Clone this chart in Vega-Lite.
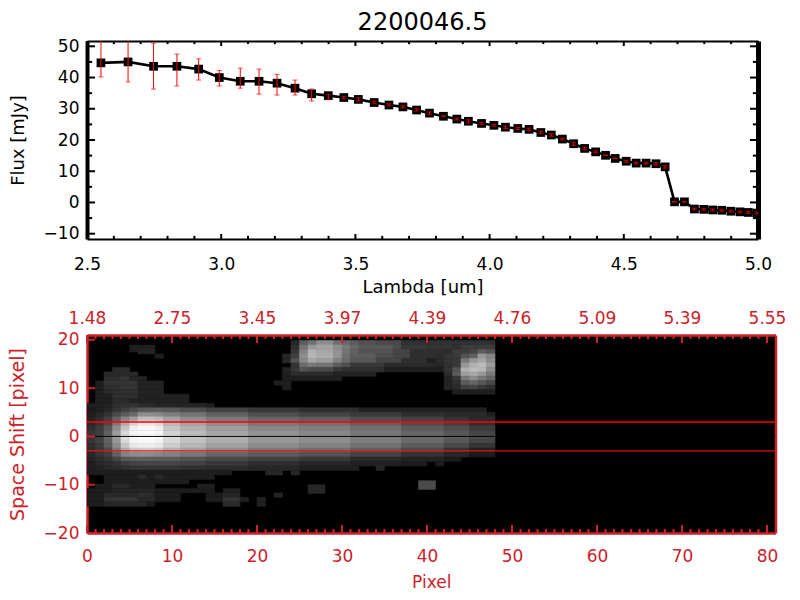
{"$schema":"https://vega.github.io/schema/vega-lite/v6.json","autosize":"pad","padding":{"left":8,"top":11,"right":0,"bottom":0},"background":"white","bounds":"flush","spacing":96,
"config":{"font":"DejaVu Sans","view":{"stroke":null},"axis":{"grid":false,"labelFont":"DejaVu Sans","titleFont":"DejaVu Sans","labelFontSize":17,"titleFontSize":17,"titleFontWeight":"normal","labelOverlap":false,"labelFlush":false,"zindex":1}},
"vconcat":[
{"title":{"text":"2200046.5","font":"DejaVu Sans","fontSize":24,"fontWeight":"normal","color":"black","offset":2},
"width":671,"height":198,
"data":{"values":[
{"lambda":2.552,"flux":44.7,"low":40.2,"high":52.5},{"lambda":2.653,"flux":45,"low":38.6,"high":52.5},{"lambda":2.748,"flux":43.6,"low":36.3,"high":51},{"lambda":2.835,"flux":43.6,"low":37.3,"high":47.5},{"lambda":2.916,"flux":42.7,"low":39.2,"high":46},{"lambda":2.993,"flux":40,"low":37.3,"high":42.3},{"lambda":3.071,"flux":38.8,"low":36.6,"high":43},{"lambda":3.141,"flux":38.8,"low":34.7,"high":42.7},{"lambda":3.208,"flux":38.2,"low":34.4,"high":41},{"lambda":3.275,"flux":36.6,"low":34.4,"high":39.2},{"lambda":3.337,"flux":34.8,"low":32.5,"high":36.3},{"lambda":3.399,"flux":34.2,"low":32.9,"high":34.5},{"lambda":3.457,"flux":33.6,"low":33.2,"high":34},{"lambda":3.511,"flux":33,"low":32.5,"high":33.5},{"lambda":3.57,"flux":32,"low":31.6,"high":32.5},{"lambda":3.625,"flux":31.2,"low":30.9,"high":31.6},
{"lambda":3.677,"flux":30.6,"low":30.3,"high":31},{"lambda":3.728,"flux":29.6,"low":29.3,"high":30},{"lambda":3.776,"flux":28.6,"low":28.2,"high":29},{"lambda":3.828,"flux":27.6,"low":27.5,"high":27.7},{"lambda":3.878,"flux":26.7,"low":26.4,"high":27},{"lambda":3.921,"flux":26,"low":25.5,"high":26.5},{"lambda":3.97,"flux":25.3,"low":25,"high":25.6},{"lambda":4.016,"flux":24.7,"low":24.4,"high":25},{"lambda":4.059,"flux":24.1,"low":23.7,"high":24.5},{"lambda":4.105,"flux":23.7,"low":23.4,"high":24},{"lambda":4.147,"flux":23.4,"low":23,"high":23.8},{"lambda":4.191,"flux":22.4,"low":22,"high":22.8},{"lambda":4.23,"flux":21.6,"low":21.2,"high":22},{"lambda":4.271,"flux":20.3,"low":20,"high":20.6},{"lambda":4.313,"flux":18.8,"low":18.3,"high":19.3},{"lambda":4.354,"flux":17.3,"low":16.9,"high":17.7},{"lambda":4.395,"flux":16.2,"low":15.9,"high":16.5},{"lambda":4.432,"flux":15.1,"low":15,"high":15.2},{"lambda":4.468,"flux":14.1,"low":14,"high":14.2},{"lambda":4.509,"flux":13.2,"low":12.9,"high":13.5},{"lambda":4.546,"flux":12.6,"low":12.3,"high":12.9},{"lambda":4.583,"flux":12.6,"low":12.3,"high":12.9},{"lambda":4.62,"flux":12.4,"low":12,"high":12.8},{"lambda":4.654,"flux":11.4,"low":11,"high":11.8},
{"lambda":4.689,"flux":0.2,"low":0.15,"high":0.25},{"lambda":4.726,"flux":0.2,"low":0.15,"high":0.25},{"lambda":4.763,"flux":-2.1,"low":-2.4,"high":-1.8},{"lambda":4.798,"flux":-2.2,"low":-2.5,"high":-1.9},{"lambda":4.831,"flux":-2.4,"low":-2.7,"high":-2.1},{"lambda":4.865,"flux":-2.5,"low":-2.8,"high":-2.2},{"lambda":4.899,"flux":-2.8,"low":-3.1,"high":-2.5},{"lambda":4.933,"flux":-3,"low":-3.3,"high":-2.7},{"lambda":4.964,"flux":-3.2,"low":-3.5,"high":-2.9},{"lambda":4.996,"flux":-3.4,"low":-3.7,"high":-3.1}
]},
"resolve":{"axis":{"x":"independent","y":"independent"}},
"layer":[
{"mark":{"type":"line","color":"black","strokeWidth":2.6,"clip":true},
"encoding":{
"x":{"field":"lambda","type":"quantitative","scale":{"domain":[2.5,5],"nice":false,"zero":false},"axis":{"orient":"bottom","title":"Lambda [um]","titleFontSize":18,"titlePadding":6,"values":[2.5,3,3.5,4,4.5,5],"format":".1f","ticks":false,"domainColor":"black","domainWidth":2,"labelColor":"black","titleColor":"black","labelPadding":17}},
"y":{"field":"flux","type":"quantitative","scale":{"domain":[-11.7,51.7],"nice":false,"zero":false},"axis":{"orient":"left","title":"Flux [mJy]","titleFontSize":18,"titlePadding":16,"values":[-10,0,10,20,30,40,50],"format":"d","ticks":false,"domainColor":"black","domainWidth":4,"labelColor":"black","titleColor":"black","labelPadding":8}}}},
{"mark":{"type":"point","shape":"square","filled":true,"color":"black","opacity":1,"size":76,"clip":true},
"encoding":{
"x":{"field":"lambda","type":"quantitative","axis":{"orient":"top","title":null,"labels":false,"ticks":false,"values":[3],"domainColor":"black","domainWidth":2}},
"y":{"field":"flux","type":"quantitative","axis":{"orient":"right","title":null,"labels":false,"ticks":false,"values":[0],"domainColor":"black","domainWidth":5}}}},
{"data":{"values":[{"at":2.5},{"at":3},{"at":3.5},{"at":4},{"at":4.5},{"at":5}]},
"layer":[
{"mark":{"type":"rule","color":"black","strokeWidth":2},"encoding":{"x":{"field":"at","type":"quantitative","axis":null},"y":{"datum":-11.7,"type":"quantitative","axis":null},"y2":{"datum":-10.1}}},
{"mark":{"type":"rule","color":"black","strokeWidth":2},"encoding":{"x":{"field":"at","type":"quantitative","axis":null},"y":{"datum":51.7,"type":"quantitative","axis":null},"y2":{"datum":50.1}}}
]},
{"data":{"values":[{"at":2.6},{"at":2.7},{"at":2.8},{"at":2.9},{"at":3.1},{"at":3.2},{"at":3.3},{"at":3.4},{"at":3.6},{"at":3.7},{"at":3.8},{"at":3.9},{"at":4.1},{"at":4.2},{"at":4.3},{"at":4.4},{"at":4.6},{"at":4.7},{"at":4.8},{"at":4.9}]},
"layer":[
{"mark":{"type":"rule","color":"black","strokeWidth":2},"encoding":{"x":{"field":"at","type":"quantitative","axis":null},"y":{"datum":-11.7,"type":"quantitative","axis":null},"y2":{"datum":-10.7}}},
{"mark":{"type":"rule","color":"black","strokeWidth":2},"encoding":{"x":{"field":"at","type":"quantitative","axis":null},"y":{"datum":51.7,"type":"quantitative","axis":null},"y2":{"datum":50.7}}}
]},
{"data":{"values":[{"at":-10},{"at":0},{"at":10},{"at":20},{"at":30},{"at":40},{"at":50}]},
"layer":[
{"mark":{"type":"rule","color":"black","strokeWidth":2},"encoding":{"y":{"field":"at","type":"quantitative","axis":null},"x":{"datum":2.5,"type":"quantitative","axis":null},"x2":{"datum":2.53}}},
{"mark":{"type":"rule","color":"black","strokeWidth":2},"encoding":{"y":{"field":"at","type":"quantitative","axis":null},"x":{"datum":5,"type":"quantitative","axis":null},"x2":{"datum":4.97}}}
]},
{"data":{"values":[{"at":-5},{"at":5},{"at":15},{"at":25},{"at":35},{"at":45}]},
"layer":[
{"mark":{"type":"rule","color":"black","strokeWidth":2},"encoding":{"y":{"field":"at","type":"quantitative","axis":null},"x":{"datum":2.5,"type":"quantitative","axis":null},"x2":{"datum":2.519}}},
{"mark":{"type":"rule","color":"black","strokeWidth":2},"encoding":{"y":{"field":"at","type":"quantitative","axis":null},"x":{"datum":5,"type":"quantitative","axis":null},"x2":{"datum":4.981}}}
]},
{"mark":{"type":"errorbar","ticks":{"color":"#ff0000","size":5,"strokeWidth":1,"clip":true},"rule":{"color":"#ff0000","strokeWidth":1,"clip":true}},
"encoding":{
"x":{"field":"lambda","type":"quantitative","axis":null},
"y":{"field":"low","type":"quantitative","axis":null,"title":null},
"y2":{"field":"high"}}}
]},
{"width":688.5,"height":198,"view":{"fill":"black"},
"resolve":{"axis":{"x":"independent","y":"independent"},"scale":{"color":"independent"}},
"layer":[
{"data":{"values":[
{"x":5,"x2":8,"y":17.5,"y2":18.93,"v":30},{"x":6,"x2":8,"y":17.08,"y2":18,"v":36},{"x":8,"x2":9,"y":16.15,"y2":17.08,"v":28},
{"x":3,"x2":5,"y":13.36,"y2":14.29,"v":42},
{"x":2,"x2":6,"y":12.44,"y2":13.36,"v":42},
{"x":2,"x2":4,"y":11.51,"y2":12.44,"v":50},{"x":4,"x2":5,"y":11.51,"y2":12.44,"v":58},{"x":5,"x2":7,"y":11.51,"y2":12.44,"v":36},
{"x":1,"x2":2,"y":10.58,"y2":11.51,"v":30},{"x":2,"x2":6,"y":10.58,"y2":11.51,"v":55},{"x":6,"x2":9,"y":10.58,"y2":11.51,"v":35},
{"x":1,"x2":2,"y":9.65,"y2":10.58,"v":30},{"x":2,"x2":4,"y":9.65,"y2":10.58,"v":50},{"x":4,"x2":6,"y":9.65,"y2":10.58,"v":55},{"x":6,"x2":9,"y":9.65,"y2":10.58,"v":35},
{"x":1,"x2":2,"y":8.72,"y2":9.65,"v":30},{"x":2,"x2":3,"y":8.72,"y2":9.65,"v":45},{"x":3,"x2":6,"y":8.72,"y2":9.65,"v":50},{"x":6,"x2":9,"y":8.72,"y2":9.65,"v":35},
{"x":1,"x2":3,"y":7.8,"y2":8.72,"v":30},{"x":3,"x2":6,"y":7.8,"y2":8.72,"v":50},{"x":6,"x2":12,"y":7.8,"y2":8.72,"v":33},
{"x":1,"x2":3,"y":6.87,"y2":7.8,"v":30},{"x":3,"x2":5,"y":6.87,"y2":7.8,"v":45},{"x":5,"x2":12,"y":6.87,"y2":7.8,"v":33},
{"x":0,"x2":2,"y":5.94,"y2":6.87,"v":30},{"x":2,"x2":3,"y":5.94,"y2":6.87,"v":35},{"x":3,"x2":4,"y":5.94,"y2":6.87,"v":50},{"x":4,"x2":6,"y":5.94,"y2":6.87,"v":55},{"x":6,"x2":8,"y":5.94,"y2":6.87,"v":45},{"x":8,"x2":14,"y":5.94,"y2":6.87,"v":38},{"x":14,"x2":15,"y":5.94,"y2":6.87,"v":30},
{"x":0,"x2":1,"y":5.01,"y2":5.94,"v":25},{"x":1,"x2":2,"y":5.01,"y2":5.94,"v":30},{"x":2,"x2":3,"y":5.01,"y2":5.94,"v":40},{"x":3,"x2":4,"y":5.01,"y2":5.94,"v":55},{"x":4,"x2":5,"y":5.01,"y2":5.94,"v":70},{"x":5,"x2":6,"y":5.01,"y2":5.94,"v":80},{"x":6,"x2":8,"y":5.01,"y2":5.94,"v":95},{"x":8,"x2":9,"y":5.01,"y2":5.94,"v":100},{"x":9,"x2":11,"y":5.01,"y2":5.94,"v":95},{"x":11,"x2":14,"y":5.01,"y2":5.94,"v":85},{"x":14,"x2":19,"y":5.01,"y2":5.94,"v":70},{"x":19,"x2":25,"y":5.01,"y2":5.94,"v":60},{"x":25,"x2":32,"y":5.01,"y2":5.94,"v":50},{"x":32,"x2":47,"y":5.01,"y2":5.94,"v":34},
{"x":0,"x2":1,"y":4.08,"y2":5.01,"v":30},{"x":1,"x2":2,"y":4.08,"y2":5.01,"v":40},{"x":2,"x2":3,"y":4.08,"y2":5.01,"v":55},{"x":3,"x2":4,"y":4.08,"y2":5.01,"v":80},{"x":4,"x2":5,"y":4.08,"y2":5.01,"v":100},{"x":5,"x2":6,"y":4.08,"y2":5.01,"v":115},{"x":6,"x2":8,"y":4.08,"y2":5.01,"v":150},{"x":8,"x2":9,"y":4.08,"y2":5.01,"v":145},{"x":9,"x2":11,"y":4.08,"y2":5.01,"v":135},{"x":11,"x2":14,"y":4.08,"y2":5.01,"v":125},{"x":14,"x2":19,"y":4.08,"y2":5.01,"v":105},{"x":19,"x2":25,"y":4.08,"y2":5.01,"v":85},{"x":25,"x2":31,"y":4.08,"y2":5.01,"v":75},{"x":31,"x2":37,"y":4.08,"y2":5.01,"v":65},{"x":37,"x2":42,"y":4.08,"y2":5.01,"v":50},{"x":42,"x2":47,"y":4.08,"y2":5.01,"v":45},{"x":47,"x2":48,"y":4.08,"y2":5.01,"v":30},
{"x":0,"x2":1,"y":3.16,"y2":4.08,"v":35},{"x":1,"x2":2,"y":3.16,"y2":4.08,"v":50},{"x":2,"x2":3,"y":3.16,"y2":4.08,"v":70},{"x":3,"x2":4,"y":3.16,"y2":4.08,"v":105},{"x":4,"x2":5,"y":3.16,"y2":4.08,"v":140},{"x":5,"x2":6,"y":3.16,"y2":4.08,"v":165},{"x":6,"x2":8,"y":3.16,"y2":4.08,"v":195},{"x":8,"x2":9,"y":3.16,"y2":4.08,"v":190},{"x":9,"x2":11,"y":3.16,"y2":4.08,"v":170},{"x":11,"x2":14,"y":3.16,"y2":4.08,"v":150},{"x":14,"x2":19,"y":3.16,"y2":4.08,"v":130},{"x":19,"x2":25,"y":3.16,"y2":4.08,"v":110},{"x":25,"x2":31,"y":3.16,"y2":4.08,"v":100},{"x":31,"x2":37,"y":3.16,"y2":4.08,"v":85},{"x":37,"x2":42,"y":3.16,"y2":4.08,"v":70},{"x":42,"x2":45,"y":3.16,"y2":4.08,"v":55},{"x":45,"x2":48,"y":3.16,"y2":4.08,"v":45},
{"x":0,"x2":1,"y":2.23,"y2":3.16,"v":40},{"x":1,"x2":2,"y":2.23,"y2":3.16,"v":55},{"x":2,"x2":3,"y":2.23,"y2":3.16,"v":80},{"x":3,"x2":4,"y":2.23,"y2":3.16,"v":130},{"x":4,"x2":5,"y":2.23,"y2":3.16,"v":180},{"x":5,"x2":6,"y":2.23,"y2":3.16,"v":215},{"x":6,"x2":8,"y":2.23,"y2":3.16,"v":235},{"x":8,"x2":9,"y":2.23,"y2":3.16,"v":225},{"x":9,"x2":11,"y":2.23,"y2":3.16,"v":190},{"x":11,"x2":14,"y":2.23,"y2":3.16,"v":170},{"x":14,"x2":19,"y":2.23,"y2":3.16,"v":150},{"x":19,"x2":25,"y":2.23,"y2":3.16,"v":130},{"x":25,"x2":31,"y":2.23,"y2":3.16,"v":120},{"x":31,"x2":37,"y":2.23,"y2":3.16,"v":105},{"x":37,"x2":42,"y":2.23,"y2":3.16,"v":85},{"x":42,"x2":45,"y":2.23,"y2":3.16,"v":70},{"x":45,"x2":48,"y":2.23,"y2":3.16,"v":50},
{"x":0,"x2":1,"y":1.3,"y2":2.23,"v":50},{"x":1,"x2":2,"y":1.3,"y2":2.23,"v":65},{"x":2,"x2":3,"y":1.3,"y2":2.23,"v":95},{"x":3,"x2":4,"y":1.3,"y2":2.23,"v":150},{"x":4,"x2":5,"y":1.3,"y2":2.23,"v":200},{"x":5,"x2":6,"y":1.3,"y2":2.23,"v":240},{"x":6,"x2":8,"y":1.3,"y2":2.23,"v":250},{"x":8,"x2":9,"y":1.3,"y2":2.23,"v":240},{"x":9,"x2":11,"y":1.3,"y2":2.23,"v":205},{"x":11,"x2":14,"y":1.3,"y2":2.23,"v":185},{"x":14,"x2":19,"y":1.3,"y2":2.23,"v":165},{"x":19,"x2":25,"y":1.3,"y2":2.23,"v":145},{"x":25,"x2":31,"y":1.3,"y2":2.23,"v":135},{"x":31,"x2":37,"y":1.3,"y2":2.23,"v":120},{"x":37,"x2":42,"y":1.3,"y2":2.23,"v":100},{"x":42,"x2":45,"y":1.3,"y2":2.23,"v":85},{"x":45,"x2":48,"y":1.3,"y2":2.23,"v":65},
{"x":0,"x2":1,"y":0.37,"y2":1.3,"v":60},{"x":1,"x2":2,"y":0.37,"y2":1.3,"v":70},{"x":2,"x2":3,"y":0.37,"y2":1.3,"v":105},{"x":3,"x2":4,"y":0.37,"y2":1.3,"v":165},{"x":4,"x2":5,"y":0.37,"y2":1.3,"v":220},{"x":5,"x2":6,"y":0.37,"y2":1.3,"v":245},{"x":6,"x2":8,"y":0.37,"y2":1.3,"v":250},{"x":8,"x2":9,"y":0.37,"y2":1.3,"v":245},{"x":9,"x2":11,"y":0.37,"y2":1.3,"v":215},{"x":11,"x2":14,"y":0.37,"y2":1.3,"v":195},{"x":14,"x2":19,"y":0.37,"y2":1.3,"v":175},{"x":19,"x2":25,"y":0.37,"y2":1.3,"v":155},{"x":25,"x2":31,"y":0.37,"y2":1.3,"v":145},{"x":31,"x2":37,"y":0.37,"y2":1.3,"v":130},{"x":37,"x2":42,"y":0.37,"y2":1.3,"v":110},{"x":42,"x2":45,"y":0.37,"y2":1.3,"v":95},{"x":45,"x2":48,"y":0.37,"y2":1.3,"v":75},
{"x":0,"x2":1,"y":-0.56,"y2":0.37,"v":60},{"x":1,"x2":2,"y":-0.56,"y2":0.37,"v":70},{"x":2,"x2":3,"y":-0.56,"y2":0.37,"v":110},{"x":3,"x2":4,"y":-0.56,"y2":0.37,"v":165},{"x":4,"x2":5,"y":-0.56,"y2":0.37,"v":225},{"x":5,"x2":6,"y":-0.56,"y2":0.37,"v":250},{"x":6,"x2":8,"y":-0.56,"y2":0.37,"v":255},{"x":8,"x2":9,"y":-0.56,"y2":0.37,"v":250},{"x":9,"x2":11,"y":-0.56,"y2":0.37,"v":225},{"x":11,"x2":14,"y":-0.56,"y2":0.37,"v":200},{"x":14,"x2":19,"y":-0.56,"y2":0.37,"v":180},{"x":19,"x2":25,"y":-0.56,"y2":0.37,"v":160},{"x":25,"x2":31,"y":-0.56,"y2":0.37,"v":150},{"x":31,"x2":37,"y":-0.56,"y2":0.37,"v":135},{"x":37,"x2":42,"y":-0.56,"y2":0.37,"v":115},{"x":42,"x2":45,"y":-0.56,"y2":0.37,"v":100},{"x":45,"x2":48,"y":-0.56,"y2":0.37,"v":80},
{"x":0,"x2":1,"y":-1.48,"y2":-0.56,"v":55},{"x":1,"x2":2,"y":-1.48,"y2":-0.56,"v":70},{"x":2,"x2":3,"y":-1.48,"y2":-0.56,"v":105},{"x":3,"x2":4,"y":-1.48,"y2":-0.56,"v":160},{"x":4,"x2":5,"y":-1.48,"y2":-0.56,"v":220},{"x":5,"x2":6,"y":-1.48,"y2":-0.56,"v":245},{"x":6,"x2":8,"y":-1.48,"y2":-0.56,"v":250},{"x":8,"x2":9,"y":-1.48,"y2":-0.56,"v":245},{"x":9,"x2":11,"y":-1.48,"y2":-0.56,"v":220},{"x":11,"x2":14,"y":-1.48,"y2":-0.56,"v":200},{"x":14,"x2":19,"y":-1.48,"y2":-0.56,"v":180},{"x":19,"x2":25,"y":-1.48,"y2":-0.56,"v":160},{"x":25,"x2":31,"y":-1.48,"y2":-0.56,"v":150},{"x":31,"x2":37,"y":-1.48,"y2":-0.56,"v":135},{"x":37,"x2":42,"y":-1.48,"y2":-0.56,"v":115},{"x":42,"x2":45,"y":-1.48,"y2":-0.56,"v":95},{"x":45,"x2":48,"y":-1.48,"y2":-0.56,"v":75},
{"x":0,"x2":1,"y":-2.41,"y2":-1.48,"v":50},{"x":1,"x2":2,"y":-2.41,"y2":-1.48,"v":65},{"x":2,"x2":3,"y":-2.41,"y2":-1.48,"v":100},{"x":3,"x2":4,"y":-2.41,"y2":-1.48,"v":150},{"x":4,"x2":5,"y":-2.41,"y2":-1.48,"v":205},{"x":5,"x2":6,"y":-2.41,"y2":-1.48,"v":235},{"x":6,"x2":8,"y":-2.41,"y2":-1.48,"v":240},{"x":8,"x2":9,"y":-2.41,"y2":-1.48,"v":235},{"x":9,"x2":11,"y":-2.41,"y2":-1.48,"v":210},{"x":11,"x2":14,"y":-2.41,"y2":-1.48,"v":190},{"x":14,"x2":19,"y":-2.41,"y2":-1.48,"v":170},{"x":19,"x2":25,"y":-2.41,"y2":-1.48,"v":150},{"x":25,"x2":31,"y":-2.41,"y2":-1.48,"v":140},{"x":31,"x2":37,"y":-2.41,"y2":-1.48,"v":125},{"x":37,"x2":42,"y":-2.41,"y2":-1.48,"v":100},{"x":42,"x2":45,"y":-2.41,"y2":-1.48,"v":80},{"x":45,"x2":48,"y":-2.41,"y2":-1.48,"v":55},
{"x":0,"x2":1,"y":-3.34,"y2":-2.41,"v":45},{"x":1,"x2":2,"y":-3.34,"y2":-2.41,"v":60},{"x":2,"x2":3,"y":-3.34,"y2":-2.41,"v":85},{"x":3,"x2":4,"y":-3.34,"y2":-2.41,"v":130},{"x":4,"x2":5,"y":-3.34,"y2":-2.41,"v":180},{"x":5,"x2":6,"y":-3.34,"y2":-2.41,"v":205},{"x":6,"x2":8,"y":-3.34,"y2":-2.41,"v":210},{"x":8,"x2":9,"y":-3.34,"y2":-2.41,"v":205},{"x":9,"x2":11,"y":-3.34,"y2":-2.41,"v":185},{"x":11,"x2":14,"y":-3.34,"y2":-2.41,"v":170},{"x":14,"x2":19,"y":-3.34,"y2":-2.41,"v":150},{"x":19,"x2":25,"y":-3.34,"y2":-2.41,"v":130},{"x":25,"x2":31,"y":-3.34,"y2":-2.41,"v":120},{"x":31,"x2":37,"y":-3.34,"y2":-2.41,"v":105},{"x":37,"x2":42,"y":-3.34,"y2":-2.41,"v":80},{"x":42,"x2":45,"y":-3.34,"y2":-2.41,"v":55},{"x":45,"x2":48,"y":-3.34,"y2":-2.41,"v":35},
{"x":0,"x2":1,"y":-4.27,"y2":-3.34,"v":40},{"x":1,"x2":2,"y":-4.27,"y2":-3.34,"v":55},{"x":2,"x2":3,"y":-4.27,"y2":-3.34,"v":70},{"x":3,"x2":4,"y":-4.27,"y2":-3.34,"v":105},{"x":4,"x2":5,"y":-4.27,"y2":-3.34,"v":140},{"x":5,"x2":6,"y":-4.27,"y2":-3.34,"v":150},{"x":6,"x2":8,"y":-4.27,"y2":-3.34,"v":150},{"x":8,"x2":9,"y":-4.27,"y2":-3.34,"v":145},{"x":9,"x2":11,"y":-4.27,"y2":-3.34,"v":140},{"x":11,"x2":14,"y":-4.27,"y2":-3.34,"v":130},{"x":14,"x2":19,"y":-4.27,"y2":-3.34,"v":110},{"x":19,"x2":25,"y":-4.27,"y2":-3.34,"v":100},{"x":25,"x2":31,"y":-4.27,"y2":-3.34,"v":90},{"x":31,"x2":37,"y":-4.27,"y2":-3.34,"v":75},{"x":37,"x2":42,"y":-4.27,"y2":-3.34,"v":55},{"x":42,"x2":45,"y":-4.27,"y2":-3.34,"v":40},{"x":45,"x2":48,"y":-4.27,"y2":-3.34,"v":25},
{"x":0,"x2":1,"y":-5.2,"y2":-4.27,"v":35},{"x":1,"x2":2,"y":-5.2,"y2":-4.27,"v":45},{"x":2,"x2":3,"y":-5.2,"y2":-4.27,"v":55},{"x":3,"x2":4,"y":-5.2,"y2":-4.27,"v":75},{"x":4,"x2":5,"y":-5.2,"y2":-4.27,"v":95},{"x":5,"x2":8,"y":-5.2,"y2":-4.27,"v":100},{"x":8,"x2":11,"y":-5.2,"y2":-4.27,"v":97},{"x":11,"x2":14,"y":-5.2,"y2":-4.27,"v":90},{"x":14,"x2":19,"y":-5.2,"y2":-4.27,"v":80},{"x":19,"x2":25,"y":-5.2,"y2":-4.27,"v":70},{"x":25,"x2":31,"y":-5.2,"y2":-4.27,"v":60},{"x":31,"x2":37,"y":-5.2,"y2":-4.27,"v":45},{"x":37,"x2":42,"y":-5.2,"y2":-4.27,"v":35},{"x":42,"x2":44,"y":-5.2,"y2":-4.27,"v":25},
{"x":0,"x2":1,"y":-6.12,"y2":-5.2,"v":30},{"x":1,"x2":2,"y":-6.12,"y2":-5.2,"v":40},{"x":2,"x2":3,"y":-6.12,"y2":-5.2,"v":45},{"x":3,"x2":4,"y":-6.12,"y2":-5.2,"v":55},{"x":4,"x2":5,"y":-6.12,"y2":-5.2,"v":65},{"x":5,"x2":6,"y":-6.12,"y2":-5.2,"v":70},{"x":6,"x2":11,"y":-6.12,"y2":-5.2,"v":75},{"x":11,"x2":14,"y":-6.12,"y2":-5.2,"v":70},{"x":14,"x2":19,"y":-6.12,"y2":-5.2,"v":60},{"x":19,"x2":25,"y":-6.12,"y2":-5.2,"v":50},{"x":25,"x2":31,"y":-6.12,"y2":-5.2,"v":40},{"x":31,"x2":37,"y":-6.12,"y2":-5.2,"v":32},{"x":37,"x2":40,"y":-6.12,"y2":-5.2,"v":28},{"x":41,"x2":42,"y":-6.12,"y2":-5.2,"v":28},
{"x":0,"x2":1,"y":-7.05,"y2":-6.12,"v":30},{"x":1,"x2":2,"y":-7.05,"y2":-6.12,"v":35},{"x":2,"x2":3,"y":-7.05,"y2":-6.12,"v":40},{"x":3,"x2":4,"y":-7.05,"y2":-6.12,"v":45},{"x":4,"x2":5,"y":-7.05,"y2":-6.12,"v":50},{"x":5,"x2":11,"y":-7.05,"y2":-6.12,"v":55},{"x":11,"x2":14,"y":-7.05,"y2":-6.12,"v":50},{"x":14,"x2":19,"y":-7.05,"y2":-6.12,"v":45},{"x":19,"x2":25,"y":-7.05,"y2":-6.12,"v":40},{"x":25,"x2":32,"y":-7.05,"y2":-6.12,"v":30},{"x":34,"x2":35,"y":-7.05,"y2":-6.12,"v":40},
{"x":0,"x2":17,"y":-7.98,"y2":-7.05,"v":28},{"x":21,"x2":23,"y":-7.98,"y2":-7.05,"v":40},{"x":24,"x2":25,"y":-7.98,"y2":-7.05,"v":40},
{"x":2,"x2":6,"y":-8.91,"y2":-7.98,"v":30},{"x":6,"x2":7,"y":-8.91,"y2":-7.98,"v":45},{"x":7,"x2":8,"y":-8.91,"y2":-7.98,"v":30},{"x":8,"x2":9,"y":-8.91,"y2":-7.98,"v":42},{"x":9,"x2":15,"y":-8.91,"y2":-7.98,"v":30},
{"x":2,"x2":12,"y":-9.84,"y2":-8.91,"v":28},
{"x":1,"x2":3,"y":-10.76,"y2":-9.84,"v":28},{"x":3,"x2":5,"y":-10.76,"y2":-9.84,"v":42},{"x":5,"x2":8,"y":-10.76,"y2":-9.84,"v":30},{"x":13,"x2":15,"y":-10.76,"y2":-9.84,"v":30},
{"x":39,"x2":41,"y":-10.97,"y2":-9.17,"v":80},{"x":26,"x2":28,"y":-11.8,"y2":-10,"v":40},
{"x":0,"x2":3,"y":-11.69,"y2":-10.76,"v":28},{"x":3,"x2":8,"y":-11.69,"y2":-10.76,"v":38},{"x":8,"x2":15,"y":-11.69,"y2":-10.76,"v":28},{"x":16,"x2":18,"y":-11.69,"y2":-10.76,"v":30},
{"x":0,"x2":2,"y":-12.62,"y2":-11.69,"v":28},{"x":2,"x2":6,"y":-12.62,"y2":-11.69,"v":42},{"x":6,"x2":7,"y":-12.62,"y2":-11.69,"v":50},{"x":7,"x2":8,"y":-12.62,"y2":-11.69,"v":45},{"x":8,"x2":11,"y":-12.62,"y2":-11.69,"v":28},{"x":14,"x2":16,"y":-12.62,"y2":-11.69,"v":25},{"x":16,"x2":18,"y":-12.62,"y2":-11.69,"v":38},{"x":22,"x2":23,"y":-12.62,"y2":-11.69,"v":35},
{"x":0,"x2":2,"y":-13.55,"y2":-12.62,"v":28},{"x":2,"x2":6,"y":-13.55,"y2":-12.62,"v":55},{"x":6,"x2":8,"y":-13.55,"y2":-12.62,"v":42},{"x":8,"x2":11,"y":-13.55,"y2":-12.62,"v":28},{"x":14,"x2":16,"y":-13.55,"y2":-12.62,"v":28},{"x":16,"x2":18,"y":-13.55,"y2":-12.62,"v":55},{"x":18,"x2":19,"y":-13.55,"y2":-12.62,"v":30},{"x":20,"x2":21,"y":-13.55,"y2":-12.62,"v":32},
{"x":0,"x2":2,"y":-14.48,"y2":-13.55,"v":28},{"x":2,"x2":7,"y":-14.48,"y2":-13.55,"v":40},{"x":7,"x2":8,"y":-14.48,"y2":-13.55,"v":25},{"x":16,"x2":18,"y":-14.48,"y2":-13.55,"v":45},{"x":20,"x2":21,"y":-14.48,"y2":-13.55,"v":32},
{"x":24,"x2":25,"y":18.93,"y2":19.86,"v":40},{"x":25,"x2":26,"y":18.93,"y2":19.86,"v":100},{"x":26,"x2":27,"y":18.93,"y2":19.86,"v":120},{"x":27,"x2":29,"y":18.93,"y2":19.86,"v":150},{"x":29,"x2":30,"y":18.93,"y2":19.86,"v":120},{"x":30,"x2":31,"y":18.93,"y2":19.86,"v":110},{"x":31,"x2":32,"y":18.93,"y2":19.86,"v":100},{"x":32,"x2":34,"y":18.93,"y2":19.86,"v":90},{"x":34,"x2":37,"y":18.93,"y2":19.86,"v":80},{"x":37,"x2":48,"y":18.93,"y2":19.86,"v":50},
{"x":24,"x2":25,"y":18,"y2":18.93,"v":50},{"x":25,"x2":26,"y":18,"y2":18.93,"v":125},{"x":26,"x2":27,"y":18,"y2":18.93,"v":160},{"x":27,"x2":29,"y":18,"y2":18.93,"v":170},{"x":29,"x2":30,"y":18,"y2":18.93,"v":150},{"x":30,"x2":31,"y":18,"y2":18.93,"v":130},{"x":31,"x2":32,"y":18,"y2":18.93,"v":110},{"x":32,"x2":36,"y":18,"y2":18.93,"v":95},{"x":36,"x2":37,"y":18,"y2":18.93,"v":85},{"x":37,"x2":40,"y":18,"y2":18.93,"v":60},{"x":40,"x2":43,"y":18,"y2":18.93,"v":55},{"x":43,"x2":44,"y":18,"y2":18.93,"v":50},{"x":44,"x2":48,"y":18,"y2":18.93,"v":65},
{"x":24,"x2":25,"y":17.08,"y2":18,"v":60},{"x":25,"x2":26,"y":17.08,"y2":18,"v":140},{"x":26,"x2":27,"y":17.08,"y2":18,"v":185},{"x":27,"x2":29,"y":17.08,"y2":18,"v":175},{"x":29,"x2":30,"y":17.08,"y2":18,"v":155},{"x":30,"x2":31,"y":17.08,"y2":18,"v":125},{"x":31,"x2":32,"y":17.08,"y2":18,"v":105},{"x":32,"x2":36,"y":17.08,"y2":18,"v":90},{"x":36,"x2":38,"y":17.08,"y2":18,"v":75},{"x":38,"x2":42,"y":17.08,"y2":18,"v":50},{"x":42,"x2":43,"y":17.08,"y2":18,"v":45},{"x":43,"x2":45,"y":17.08,"y2":18,"v":65},{"x":45,"x2":46,"y":17.08,"y2":18,"v":75},{"x":46,"x2":47,"y":17.08,"y2":18,"v":100},{"x":47,"x2":48,"y":17.08,"y2":18,"v":90},
{"x":23,"x2":24,"y":16.15,"y2":17.08,"v":40},{"x":24,"x2":25,"y":16.15,"y2":17.08,"v":70},{"x":25,"x2":26,"y":16.15,"y2":17.08,"v":150},{"x":26,"x2":27,"y":16.15,"y2":17.08,"v":190},{"x":27,"x2":29,"y":16.15,"y2":17.08,"v":180},{"x":29,"x2":30,"y":16.15,"y2":17.08,"v":155},{"x":30,"x2":31,"y":16.15,"y2":17.08,"v":120},{"x":31,"x2":34,"y":16.15,"y2":17.08,"v":100},{"x":34,"x2":36,"y":16.15,"y2":17.08,"v":85},{"x":36,"x2":38,"y":16.15,"y2":17.08,"v":75},{"x":38,"x2":41,"y":16.15,"y2":17.08,"v":50},{"x":41,"x2":42,"y":16.15,"y2":17.08,"v":45},{"x":42,"x2":43,"y":16.15,"y2":17.08,"v":55},{"x":43,"x2":44,"y":16.15,"y2":17.08,"v":60},{"x":44,"x2":45,"y":16.15,"y2":17.08,"v":90},{"x":45,"x2":46,"y":16.15,"y2":17.08,"v":105},{"x":46,"x2":47,"y":16.15,"y2":17.08,"v":160},{"x":47,"x2":48,"y":16.15,"y2":17.08,"v":140},
{"x":23,"x2":24,"y":15.22,"y2":16.15,"v":40},{"x":24,"x2":25,"y":15.22,"y2":16.15,"v":90},{"x":25,"x2":26,"y":15.22,"y2":16.15,"v":145},{"x":26,"x2":27,"y":15.22,"y2":16.15,"v":175},{"x":27,"x2":29,"y":15.22,"y2":16.15,"v":165},{"x":29,"x2":30,"y":15.22,"y2":16.15,"v":140},{"x":30,"x2":31,"y":15.22,"y2":16.15,"v":115},{"x":31,"x2":34,"y":15.22,"y2":16.15,"v":95},{"x":34,"x2":37,"y":15.22,"y2":16.15,"v":75},{"x":37,"x2":40,"y":15.22,"y2":16.15,"v":50},{"x":40,"x2":41,"y":15.22,"y2":16.15,"v":30},{"x":41,"x2":42,"y":15.22,"y2":16.15,"v":45},{"x":42,"x2":43,"y":15.22,"y2":16.15,"v":55},{"x":43,"x2":44,"y":15.22,"y2":16.15,"v":60},{"x":44,"x2":45,"y":15.22,"y2":16.15,"v":130},{"x":45,"x2":46,"y":15.22,"y2":16.15,"v":160},{"x":46,"x2":47,"y":15.22,"y2":16.15,"v":175},{"x":47,"x2":48,"y":15.22,"y2":16.15,"v":150},
{"x":24,"x2":25,"y":14.29,"y2":15.22,"v":55},{"x":25,"x2":26,"y":14.29,"y2":15.22,"v":115},{"x":26,"x2":27,"y":14.29,"y2":15.22,"v":130},{"x":27,"x2":29,"y":14.29,"y2":15.22,"v":125},{"x":29,"x2":30,"y":14.29,"y2":15.22,"v":100},{"x":30,"x2":31,"y":14.29,"y2":15.22,"v":85},{"x":31,"x2":35,"y":14.29,"y2":15.22,"v":60},{"x":35,"x2":41,"y":14.29,"y2":15.22,"v":45},{"x":41,"x2":42,"y":14.29,"y2":15.22,"v":40},{"x":42,"x2":43,"y":14.29,"y2":15.22,"v":50},{"x":43,"x2":44,"y":14.29,"y2":15.22,"v":60},{"x":44,"x2":45,"y":14.29,"y2":15.22,"v":160},{"x":45,"x2":46,"y":14.29,"y2":15.22,"v":185},{"x":46,"x2":47,"y":14.29,"y2":15.22,"v":195},{"x":47,"x2":48,"y":14.29,"y2":15.22,"v":165},
{"x":23,"x2":24,"y":13.36,"y2":14.29,"v":35},{"x":24,"x2":25,"y":13.36,"y2":14.29,"v":60},{"x":25,"x2":26,"y":13.36,"y2":14.29,"v":90},{"x":26,"x2":29,"y":13.36,"y2":14.29,"v":80},{"x":29,"x2":30,"y":13.36,"y2":14.29,"v":60},{"x":30,"x2":35,"y":13.36,"y2":14.29,"v":50},{"x":35,"x2":42,"y":13.36,"y2":14.29,"v":30},{"x":42,"x2":43,"y":13.36,"y2":14.29,"v":55},{"x":43,"x2":44,"y":13.36,"y2":14.29,"v":90},{"x":44,"x2":45,"y":13.36,"y2":14.29,"v":185},{"x":45,"x2":46,"y":13.36,"y2":14.29,"v":195},{"x":46,"x2":47,"y":13.36,"y2":14.29,"v":190},{"x":47,"x2":48,"y":13.36,"y2":14.29,"v":150},
{"x":23,"x2":24,"y":12.44,"y2":13.36,"v":30},{"x":24,"x2":29,"y":12.44,"y2":13.36,"v":45},{"x":29,"x2":34,"y":12.44,"y2":13.36,"v":35},{"x":42,"x2":43,"y":12.44,"y2":13.36,"v":45},{"x":43,"x2":44,"y":12.44,"y2":13.36,"v":100},{"x":44,"x2":45,"y":12.44,"y2":13.36,"v":165},{"x":45,"x2":46,"y":12.44,"y2":13.36,"v":175},{"x":46,"x2":47,"y":12.44,"y2":13.36,"v":160},{"x":47,"x2":48,"y":12.44,"y2":13.36,"v":130},
{"x":23,"x2":30,"y":11.51,"y2":12.44,"v":30},{"x":42,"x2":43,"y":11.51,"y2":12.44,"v":35},{"x":43,"x2":44,"y":11.51,"y2":12.44,"v":60},{"x":44,"x2":45,"y":11.51,"y2":12.44,"v":130},{"x":45,"x2":46,"y":11.51,"y2":12.44,"v":150},{"x":46,"x2":47,"y":11.51,"y2":12.44,"v":130},{"x":47,"x2":48,"y":11.51,"y2":12.44,"v":110},
{"x":22,"x2":24,"y":10.58,"y2":11.51,"v":30},{"x":42,"x2":43,"y":10.58,"y2":11.51,"v":35},{"x":43,"x2":44,"y":10.58,"y2":11.51,"v":50},{"x":44,"x2":45,"y":10.58,"y2":11.51,"v":100},{"x":45,"x2":46,"y":10.58,"y2":11.51,"v":110},{"x":46,"x2":47,"y":10.58,"y2":11.51,"v":95},{"x":47,"x2":48,"y":10.58,"y2":11.51,"v":80},
{"x":23,"x2":24,"y":9.65,"y2":10.58,"v":30},{"x":42,"x2":43,"y":9.65,"y2":10.58,"v":35},{"x":43,"x2":44,"y":9.65,"y2":10.58,"v":45},{"x":44,"x2":45,"y":9.65,"y2":10.58,"v":70},{"x":45,"x2":46,"y":9.65,"y2":10.58,"v":75},{"x":46,"x2":47,"y":9.65,"y2":10.58,"v":60},{"x":47,"x2":48,"y":9.65,"y2":10.58,"v":50},
{"x":43,"x2":48,"y":8.72,"y2":9.65,"v":30}
]},
"mark":{"type":"rect","clip":true,"strokeWidth":0.6},
"encoding":{
"x":{"field":"x","type":"quantitative","scale":{"domain":[0,81],"nice":false,"zero":false},"axis":{"orient":"bottom","title":"Pixel","titleFontSize":17,"titlePadding":10,"values":[0,10,20,30,40,50,60,70,80],"format":"d","ticks":false,"domainColor":"#cc2229","domainWidth":2.5,"labelColor":"#cc2229","titleColor":"#cc2229","labelPadding":15}},
"x2":{"field":"x2"},
"y":{"field":"y","type":"quantitative","scale":{"domain":[-20,21],"nice":false,"zero":false},"axis":{"orient":"left","title":"Space Shift [pixel]","titleFontSize":19,"titlePadding":16,"values":[-20,-10,0,10,20],"format":"d","ticks":false,"domainColor":"#cc2229","domainWidth":2.5,"labelColor":"#cc2229","titleColor":"#cc2229","labelPadding":8}},
"y2":{"field":"y2"},
"color":{"field":"v","type":"quantitative","scale":{"domain":[0,255],"range":["#000000","#ffffff"]},"legend":null},
"stroke":{"field":"v","type":"quantitative","scale":{"domain":[0,255],"range":["#000000","#ffffff"]},"legend":null}}},
{"data":{"values":[{"level":3,"kind":"upper"},{"level":-3,"kind":"lower"},{"level":0,"kind":"center"}]},
"mark":{"type":"rule","clip":true},
"encoding":{
"x":{"datum":0,"type":"quantitative","axis":{"orient":"top","title":null,"values":[0,10,20,30,40,50,60,70,80],"labelExpr":"['1.48','2.75','3.45','3.97','4.39','4.76','5.09','5.39','5.55'][datum.value/10]","ticks":false,"domainColor":"#cc2229","domainWidth":2.5,"labelColor":"#cc2229","labelPadding":8}},
"x2":{"datum":81},
"y":{"field":"level","type":"quantitative","axis":{"orient":"right","title":null,"labels":false,"ticks":false,"values":[0],"domainColor":"#cc2229","domainWidth":2.5}},
"color":{"field":"kind","type":"nominal","scale":{"domain":["upper","lower","center"],"range":["#ff0000","#e01010","#000000"]},"legend":null},
"size":{"field":"kind","type":"nominal","scale":{"domain":["upper","lower","center"],"range":[1.4,1,1.2]},"legend":null}}},
{"data":{"values":[{"at":0},{"at":10},{"at":20},{"at":30},{"at":40},{"at":50},{"at":60},{"at":70},{"at":80}]},
"layer":[
{"mark":{"type":"rule","color":"#cc2229","strokeWidth":2},"encoding":{"x":{"field":"at","type":"quantitative","axis":null},"y":{"datum":-20,"type":"quantitative","axis":null},"y2":{"datum":-18.35}}},
{"mark":{"type":"rule","color":"#cc2229","strokeWidth":2},"encoding":{"x":{"field":"at","type":"quantitative","axis":null},"y":{"datum":21,"type":"quantitative","axis":null},"y2":{"datum":19.35}}}
]},
{"data":{"values":[{"at":1},{"at":2},{"at":3},{"at":4},{"at":5},{"at":6},{"at":7},{"at":8},{"at":9},{"at":11},{"at":12},{"at":13},{"at":14},{"at":15},{"at":16},{"at":17},{"at":18},{"at":19},{"at":21},{"at":22},{"at":23},{"at":24},{"at":25},{"at":26},{"at":27},{"at":28},{"at":29},{"at":31},{"at":32},{"at":33},{"at":34},{"at":35},{"at":36},{"at":37},{"at":38},{"at":39},{"at":41},{"at":42},{"at":43},{"at":44},{"at":45},{"at":46},{"at":47},{"at":48},{"at":49},{"at":51},{"at":52},{"at":53},{"at":54},{"at":55},{"at":56},{"at":57},{"at":58},{"at":59},{"at":61},{"at":62},{"at":63},{"at":64},{"at":65},{"at":66},{"at":67},{"at":68},{"at":69},{"at":71},{"at":72},{"at":73},{"at":74},{"at":75},{"at":76},{"at":77},{"at":78},{"at":79}]},
"layer":[
{"mark":{"type":"rule","color":"#cc2229","strokeWidth":2},"encoding":{"x":{"field":"at","type":"quantitative","axis":null},"y":{"datum":-20,"type":"quantitative","axis":null},"y2":{"datum":-19.17}}},
{"mark":{"type":"rule","color":"#cc2229","strokeWidth":2},"encoding":{"x":{"field":"at","type":"quantitative","axis":null},"y":{"datum":21,"type":"quantitative","axis":null},"y2":{"datum":20.17}}}
]},
{"data":{"values":[{"at":-20},{"at":-10},{"at":0},{"at":10},{"at":20}]},
"mark":{"type":"rule","color":"#cc2229","strokeWidth":2},"encoding":{"y":{"field":"at","type":"quantitative","axis":null},"x":{"datum":0,"type":"quantitative","axis":null},"x2":{"datum":0.94}}}
]}
]}
